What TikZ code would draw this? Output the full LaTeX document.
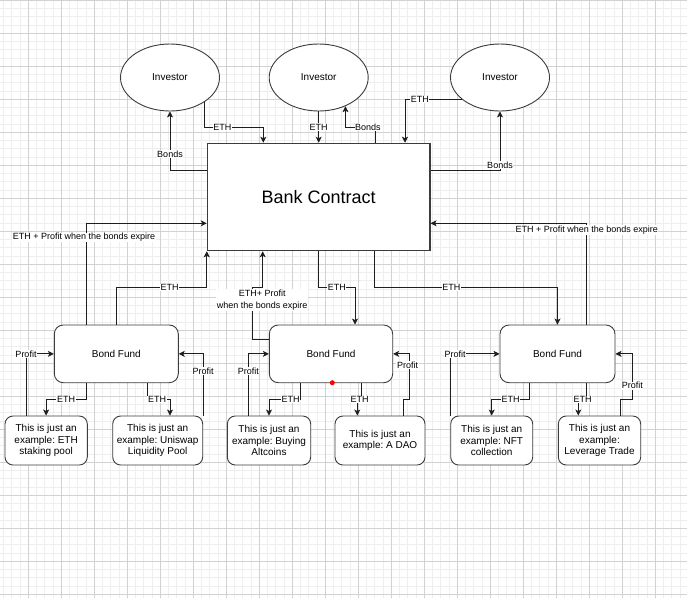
\documentclass[tikz,border=0pt]{standalone}
\usepackage{fontspec}
\setmainfont{Liberation Sans}
\usetikzlibrary{shapes.geometric,arrows.meta}
\definecolor{gminor}{RGB}{238,238,238}
\definecolor{gmajor}{RGB}{210,210,210}
\definecolor{ln}{RGB}{30,30,30}
\definecolor{bd}{RGB}{60,60,60}
\frenchspacing
\begin{document}
\begin{tikzpicture}[x=1pt,y=-1pt,
  inv/.style={ellipse,draw=bd,line width=0.9pt,fill=white,minimum width=99pt,minimum height=67pt,inner sep=0pt,font=\fontsize{10}{12}\selectfont},
  bankbox/.style={rectangle,draw=bd,line width=1.1pt,fill=white,inner sep=0pt,font=\fontsize{18}{21}\selectfont},
  fund/.style={rectangle,rounded corners=9pt,draw=bd,line width=0.9pt,fill=white,minimum height=57.7pt,inner sep=0pt,font=\fontsize{10}{12}\selectfont},
  ex/.style={rectangle,rounded corners=8pt,draw=bd,line width=0.9pt,fill=white,minimum height=49pt,inner sep=0pt,align=center,font=\fontsize{10}{11.7}\selectfont},
  arr/.style={draw=ln,line width=0.8pt,-{Stealth[length=6pt,width=6pt,inset=1.5pt]}},
  lbl/.style={fill=white,inner sep=0.6pt,text=black,font=\fontsize{9}{11.7}\selectfont,align=center},
  gminorl/.style={draw=gminor,line width=0.8pt},
  gmajorl/.style={draw=gmajor,line width=0.8pt}]
\useasboundingbox (0,0) rectangle (687,598);
\fill[white] (0,0) rectangle (687,598);
% grid
\foreach \k in {0,...,84} {\draw[gminorl] ({-4.7+8.25*\k},0) -- ({-4.7+8.25*\k},598);}
\foreach \k in {0,...,72} {\draw[gminorl] (0,{0.3+8.25*\k}) -- (687,{0.3+8.25*\k});}
\foreach \k in {0,...,21} {\draw[gmajorl] ({-4.7+33*\k},0) -- ({-4.7+33*\k},598);}
\foreach \k in {0,...,18} {\draw[gmajorl] (0,{0.3+33*\k}) -- (687,{0.3+33*\k});}

% nodes
\node[inv] (inv1) at (170,77.5) {Investor};
\node[inv] (inv2) at (318.7,77.5) {Investor};
\node[inv] (inv3) at (500,77.5) {Investor};
\node[bankbox,minimum width=222.7pt,minimum height=107.4pt] (bank) at (318.65,197) {};
\node[font=\fontsize{18}{21}\selectfont] (banktxt) at (318.65,197) {Bank Contract};
\node[fund,minimum width=124pt] (bf1) at (116.3,353.85) {Bond Fund};
\node[fund,minimum width=123.4pt] (bf2) at (331,353.85) {Bond Fund};
\node[fund,minimum width=115pt] (bf3) at (557.5,353.85) {Bond Fund};
\node[ex,minimum width=82.3pt] (e1) at (46.15,440.5) {This is just an\\example: ETH\\staking pool};
\node[ex,minimum width=90pt] (e2) at (157.7,440.5) {This is just an\\example: Uniswap\\Liquidity Pool};
\node[ex,minimum width=83.4pt] (e3) at (269,440.5) {This is just an\\example: Buying\\Altcoins};
\node[ex,minimum width=90pt] (e4) at (380,440.5) {This is just an\\example: A DAO};
\node[ex,minimum width=82pt] (e5) at (491.7,440.5) {This is just an\\example: NFT\\collection};
\node[ex,minimum width=82.4pt] (e6) at (599.5,440.5) {This is just an\\example:\\Leverage Trade};

% investors <-> bank
\draw[arr] (bank.west |- 0,170) -- (inv1.south |- 0,170) -- node[lbl,pos=0.27]{Bonds} (inv1.south);
\draw[arr] (inv1.-35) |- node[lbl,pos=0.65]{ETH} (263.3,127.3) -- (bank.north -| 263.3,0);
\draw[arr] (inv2.south) -- node[lbl,pos=0.5]{ETH} (bank.north -| inv2.south);
\draw[arr] (bank.north -| 375,0) |- node[lbl,pos=0.62]{Bonds} (inv2.-47 |- 0,127) -- (inv2.-47);
\draw[arr] (inv3.210) -| node[lbl,pos=0.37]{ETH} (bank.north -| 405,0);
\draw[arr] (bank.east |- 0,170) -| node[lbl,pos=0.54]{Bonds} (inv3.south);

% bond fund 1
\draw[arr] (bf1.north -| 116,0) |- node[lbl,pos=0.795]{ETH} (bank.south west |- 0,287.7) -- (bank.south west);
\draw[arr] (bf1.north -| 86,0) |- node[lbl,pos=0.43,xshift=-2pt]{ETH + Profit when the bonds expire} (bank.west |- 0,223.3);
\draw[arr] (e1.north -| 26,0) |- node[lbl,pos=0.5]{Profit} (bf1.west);
\draw[arr] (bf1.south -| 86,0) |- node[lbl,pos=0.75]{ETH} (e1.north |- 0,399.3) -- (e1.north);
\draw[arr] (bf1.south -| 147.7,0) |- node[lbl,pos=0.71]{ETH} (170,399.3) -- (e2.north -| 170,0);
\draw[arr] (e2.north east) |- node[lbl,pos=0.36]{Profit} (bf1.east);

% bond fund 2
\draw[arr] (bank.south) |- node[lbl,pos=0.75]{ETH} (355,287.7) -- (bf2.north -| 355,0);
\draw[arr] (bf2.west |- 0,339.3) -- (252.7,339.3) -- node[lbl,pos=0.76,xshift=9.5pt]{ETH+ Profit\\when the bonds expire} (252.7,287.7) -- (262.7,287.7) -- (bank.south -| 262.7,0);
\draw[arr] (e3.north -| 248.3,0) |- node[lbl,pos=0.36]{Profit} (bf2.west);
\draw[arr] (bf2.south -| 300,0) |- node[lbl,pos=0.65]{ETH} (e3.north |- 0,399.3) -- (e3.north);
\draw[arr] (bf2.south -| 361.7,0) -- (361.7,399.3) -- node[lbl,pos=0.5]{ETH} (357.3,399.3) -- (e4.north -| 357.3,0);
\draw[arr] (e4.north -| 403.3,0) -- (403.3,399.3) -- (409,399.3) -- node[lbl,pos=0.755,xshift=-1.5pt]{Profit} (409,353.85) -- (bf2.east);
\node[circle,fill=red,inner sep=0pt,minimum size=5pt] (dot) at (332.3,382.7) {};

% bond fund 3
\draw[arr] (bank.south -| 374.3,0) |- node[lbl,pos=0.71]{ETH} (bf3.north |- 0,287.7) -- (bf3.north);
\draw[arr] (bf3.north -| 586.7,0) |- node[lbl,pos=0.467]{ETH + Profit when the bonds expire} (bank.east |- 0,223.3);
\draw[arr] (e5.north west) |- node[lbl,pos=0.55]{Profit} (bf3.west);
\draw[arr] (bf3.south -| 529.3,0) |- node[lbl,pos=0.75]{ETH} (e5.north |- 0,399.3) -- (e5.north);
\draw[arr] (bf3.south -| 586.7,0) -- (586.7,399.3) -- node[lbl,pos=0.5]{ETH} (578.3,399.3) -- (e6.north -| 578.3,0);
\draw[arr] (e6.north -| 620,0) -- (620,399.3) -- (632.3,399.3) -- node[lbl,pos=0.3]{Profit} (632.3,353.85) -- (bf3.east);
\end{tikzpicture}
\end{document}
